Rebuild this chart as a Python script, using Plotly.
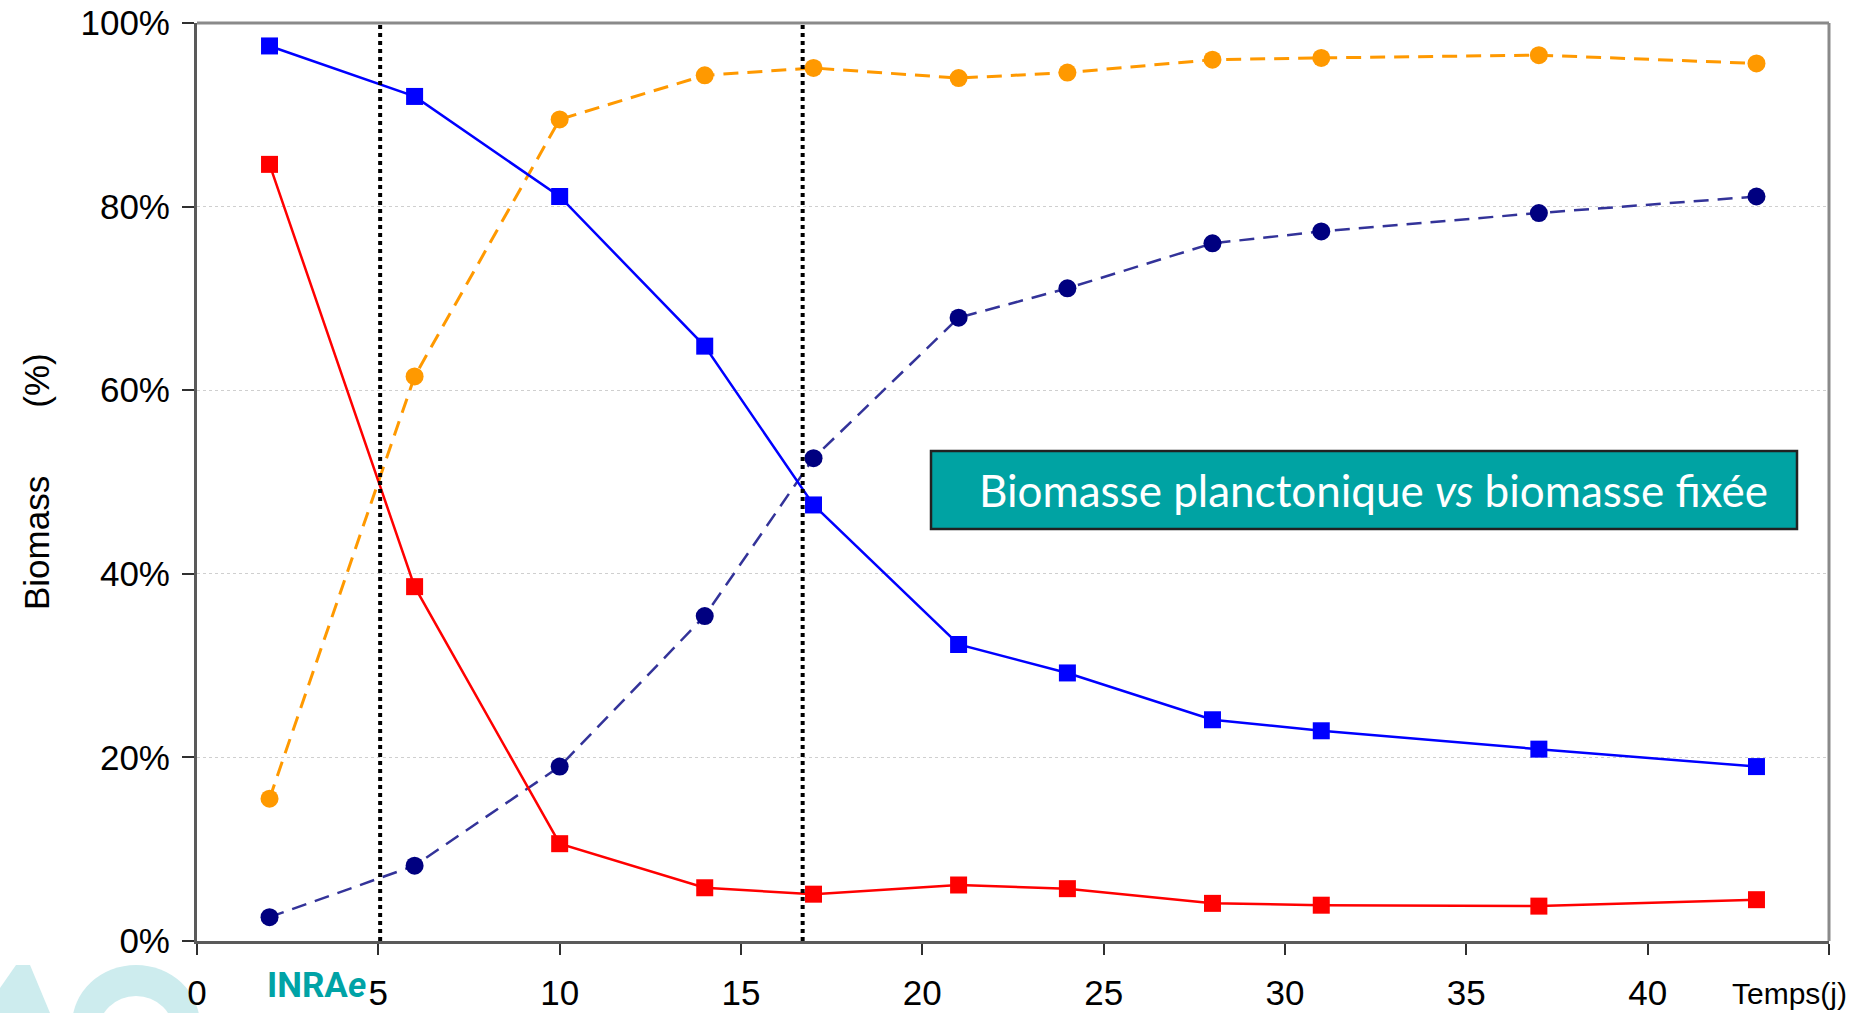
import plotly.graph_objects as go

# ---------------- data ----------------
days = [2, 6, 10, 14, 17, 21, 24, 28, 31, 37, 43]
blue_sq = [97.5, 92.0, 81.1, 64.8, 47.5, 32.3, 29.2, 24.1, 22.9, 20.9, 19.0]
red_sq = [84.6, 38.6, 10.6, 5.8, 5.1, 6.1, 5.7, 4.1, 3.9, 3.8, 4.5]
orange_circ = [15.5, 61.5, 89.5, 94.3, 95.1, 94.0, 94.6, 96.0, 96.2, 96.5, 95.6]
navy_circ = [2.6, 8.2, 19.0, 35.4, 52.6, 67.9, 71.1, 76.0, 77.3, 79.3, 81.1]
phase_limits = [5.05, 16.7]
x_ticks = [0, 5, 10, 15, 20, 25, 30, 35, 40, 45]
x_ticktext = ["0", "5", "10", "15", "20", "25", "30", "35", "40", ""]
y_ticks = [0, 20, 40, 60, 80, 100]
y_ticktext = ["0%", "20%", "40%", "60%", "80%", "100%"]

W, H = 1866, 1013
ML, MR, MT, MB = 197, 37, 23, 72
PW, PH = W - ML - MR, H - MT - MB


def px(xp):
    return (xp - ML) / PW


def py(yp):
    return (H - MB - yp) / PH


FONT = "Liberation Sans, Arial, sans-serif"

fig = go.Figure()

fig.add_trace(go.Scatter(
    x=days, y=orange_circ, mode="lines+markers",
    line=dict(color="#FF9900", width=3, dash="15px,9px"),
    marker=dict(symbol="circle", size=18, color="#FF9900"),
    showlegend=False))
fig.add_trace(go.Scatter(
    x=days, y=navy_circ, mode="lines+markers",
    line=dict(color="#333399", width=2.5, dash="15px,9px"),
    marker=dict(symbol="circle", size=18, color="#000080"),
    showlegend=False))
fig.add_trace(go.Scatter(
    x=days, y=red_sq, mode="lines+markers",
    line=dict(color="#FF0000", width=2.5),
    marker=dict(symbol="square", size=17, color="#FF0000"),
    showlegend=False))
fig.add_trace(go.Scatter(
    x=days, y=blue_sq, mode="lines+markers",
    line=dict(color="#0000FF", width=2.5),
    marker=dict(symbol="square", size=17, color="#0000FF"),
    showlegend=False))

shapes = []
for xv in phase_limits:
    shapes.append(dict(type="line", xref="x", yref="paper", x0=xv, x1=xv, y0=0, y1=1,
                       line=dict(color="black", width=4, dash="dot"), layer="above"))
# frame top/right
shapes.append(dict(type="line", xref="paper", yref="paper", x0=0, x1=1, y0=1, y1=1,
                   line=dict(color="#8a8a8a", width=3)))
shapes.append(dict(type="line", xref="paper", yref="paper", x0=1, x1=1, y0=0, y1=1,
                   line=dict(color="#8a8a8a", width=3)))
# title box
shapes.append(dict(type="rect", xref="paper", yref="paper",
                   x0=px(931), x1=px(1797), y0=py(529), y1=py(451),
                   fillcolor="#00A3A3", line=dict(color="#222222", width=2.5), layer="above"))
# watermark pieces (bottom-left)
wm = "rgb(205,236,238)"
shapes.append(dict(type="circle", xref="paper", yref="paper",
                   x0=px(72), x1=px(200), y0=py(1085), y1=py(965),
                   fillcolor=wm, line=dict(width=0), layer="below"))
shapes.append(dict(type="circle", xref="paper", yref="paper",
                   x0=px(98), x1=px(174), y0=py(1070), y1=py(996),
                   fillcolor="white", line=dict(width=0), layer="below"))
path = "M {},{} L {},{} L {},{} L {},{} L {},{} Z".format(
    px(0), py(1013), px(0), py(988), px(16), py(965), px(30), py(965), px(50), py(1013))
shapes.append(dict(type="path", xref="paper", yref="paper", path=path,
                   fillcolor=wm, line=dict(width=0), layer="below"))

annotations = [
    dict(text="Biomasse planctonique <i>vs</i> biomasse fixée", xref="paper", yref="paper",
         x=px(977), y=py(490), xanchor="left", yanchor="middle", showarrow=False,
         font=dict(family="Lato, Open Sans, sans-serif", size=44, color="white")),
    dict(text="Biomass" + "\u00a0" * 7 + "(%)", xref="paper", yref="paper",
         x=px(36), y=0.5, xanchor="center", yanchor="middle", textangle=-90, showarrow=False,
         font=dict(family=FONT, size=35, color="black")),
    dict(text="Temps(j)", xref="paper", yref="paper", x=px(1789), y=py(993),
         xanchor="center", yanchor="middle", showarrow=False,
         font=dict(family=FONT, size=30, color="black")),
    dict(text="<b>INRA<i>e</i></b>", xref="paper", yref="paper", x=px(316), y=py(985),
         xanchor="center", yanchor="middle", showarrow=False,
         font=dict(family="Roboto, sans-serif", size=35, color="#00A3A6")),
]

fig.update_layout(
    width=W, height=H,
    margin=dict(l=ML, r=MR, t=MT, b=MB, pad=0, autoexpand=False),
    paper_bgcolor="white", plot_bgcolor="white",
    font=dict(family=FONT, size=35, color="black"),
    shapes=shapes, annotations=annotations,
    xaxis=dict(range=[0, 45], tickmode="array", tickvals=x_ticks, ticktext=x_ticktext,
               showgrid=False, zeroline=False, showline=True, linecolor="#5a5a5a", linewidth=3,
               ticks="outside", ticklen=11, tickwidth=2, tickcolor="#303030",
               ticklabelstandoff=8, tickfont=dict(size=35), automargin=False),
    yaxis=dict(range=[0, 100], tickmode="array", tickvals=y_ticks, ticktext=y_ticktext,
               showgrid=True, gridcolor="#cfcfcf", gridwidth=1, griddash="dot",
               zeroline=False, showline=True, linecolor="#5a5a5a", linewidth=3,
               ticks="outside", ticklen=12, tickwidth=2, tickcolor="#303030",
               ticklabelstandoff=5, tickfont=dict(size=35), automargin=False),
)

fig.write_html("out.html", config={"displayModeBar": False},
               post_script="document.body.style.margin='0';")
